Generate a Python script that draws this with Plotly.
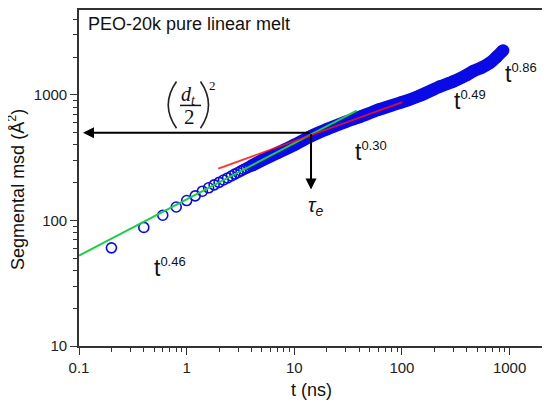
import math
import plotly.graph_objects as go

# ---------------- data ----------------
# individual open circles (short times, ns) and segmental msd (Å^2)
circle_t = [0.2, 0.4, 0.6, 0.8, 1.0, 1.2, 1.4, 1.6, 1.8, 2.0, 2.2, 2.4, 2.6, 2.8, 3.0,
            3.2, 3.4, 3.6, 3.8, 4.0, 4.2, 4.4, 4.6, 4.8, 5.0]
circle_msd = [60.5, 88, 110, 128, 144, 157, 171, 182, 192, 201, 210, 218, 226, 234, 241,
              248, 255, 261, 267, 273, 279, 285, 290, 296, 301]

# dense part of the same data set (circles merge into a solid band)
band_t = [4, 5, 7, 10, 14, 20, 30, 40, 60, 100, 150, 225, 300, 400, 460, 550, 650, 750, 870]
band_msd = [273, 301, 345, 400, 465, 532, 610, 665, 760, 875, 995, 1165, 1280, 1440,
            1545, 1650, 1790, 1990, 2260]

# power-law guide lines
green_t = [0.1, 38]
green_msd = [52.5, 750]
red_t = [1.965, 101]
red_msd = [259, 875]

# entanglement point
tau_e = 14.3
msd_tau_e = 500
arrow_left_t = 0.109
arrow_down_msd = 176

# slope labels
slope_base = ["t", "t", "t", "t"]
slope_exp = ["0.46", "0.30", "0.49", "0.86"]
slope_t = [0.476, 34.8, 289, 871]
slope_msd = [42.5, 352, 905, 1470]

x_tick_vals = [0.1, 1, 10, 100, 1000]
x_tick_text = ["0.1", "1", "10", "100", "1000"]
y_tick_vals = [10, 100, 1000]
y_tick_text = ["10", "100", "1000"]

# ---------------- layout helpers ----------------
# the page adds an 8 px body margin, so the figure is 8 px smaller and
# every page-pixel position below is shifted by OFF
OFF = 8
W, H = 550 - OFF, 407 - OFF
ML, MR, MT, MB = 79 - OFF, 8, 0, 61
PW, PH = W - ML - MR, H - MT - MB
DEC_Y = 126.3  # px per decade on y (page reference)


def px(x):
    """page x pixel -> paper"""
    return (x - OFF - ML) / PW


def py(y):
    """page y pixel -> paper"""
    return (H - MB - (y - OFF)) / PH


BLUE = "#0a0ae6"
SANS = "Liberation Sans, Arial, sans-serif"
SERIF = "Liberation Serif, Times New Roman, serif"

fig = go.Figure()

fig.add_trace(go.Scatter(
    x=circle_t, y=circle_msd, mode="markers",
    marker=dict(symbol="circle-open", size=10, color=BLUE, line=dict(width=1.6, color=BLUE)),
    showlegend=False, hoverinfo="skip"))

fig.add_trace(go.Scatter(
    x=band_t, y=band_msd, mode="lines+markers",
    line=dict(color=BLUE, width=12.5, shape="spline", smoothing=0.6),
    marker=dict(symbol="circle", size=12.5, color=BLUE, line=dict(width=0)),
    showlegend=False, hoverinfo="skip"))

fig.add_trace(go.Scatter(
    x=green_t, y=green_msd, mode="lines",
    line=dict(color="#18d040", width=2),
    showlegend=False, hoverinfo="skip"))

fig.add_trace(go.Scatter(
    x=red_t, y=red_msd, mode="lines",
    line=dict(color="#ff1010", width=1.8), opacity=0.85,
    showlegend=False, hoverinfo="skip"))

minor_vals = [m * 10 ** e for e in range(-1, 4) for m in range(2, 10)]

axis_common = dict(
    type="log", showgrid=False, zeroline=False,
    showline=True, linecolor="#333333", linewidth=1.6, mirror=True,
    ticks="outside", ticklen=7, tickwidth=1.4, tickcolor="#333333",
    tickfont=dict(family=SANS, size=15, color="#222222"),
    minor=dict(tickvals=minor_vals, ticks="outside", ticklen=4, tickwidth=1.2,
               tickcolor="#333333", showgrid=False),
)

fig.update_xaxes(range=[math.log10(0.1), math.log10(2000)], tickmode="array",
                 tickvals=x_tick_vals, ticktext=x_tick_text, **axis_common)
fig.update_yaxes(range=[1, 1 + PH / DEC_Y], tickmode="array",
                 tickvals=y_tick_vals, ticktext=y_tick_text, **axis_common)

ann = []
# axis titles
ann.append(dict(xref="paper", yref="paper", x=px(311), y=py(390), text="t (ns)",
                showarrow=False, font=dict(family=SANS, size=18, color="#111111"),
                xanchor="center", yanchor="middle"))
ann.append(dict(xref="paper", yref="paper", x=px(17), y=py(189), text="Segmental msd (Å<sup>2</sup>)",
                textangle=-90, showarrow=False, font=dict(family=SANS, size=18, color="#111111"),
                xanchor="center", yanchor="middle"))
# header text
ann.append(dict(xref="paper", yref="paper", x=px(86), y=py(22), text="PEO-20k pure linear melt",
                showarrow=False, font=dict(family=SANS, size=18, color="#111111"),
                xanchor="left", yanchor="middle"))
# slope labels
for base, ex, tx, ty in zip(slope_base, slope_exp, slope_t, slope_msd):
    txt = base + "<sup><span style='font-size:13px'>" + ex + "</span></sup>"
    ann.append(dict(xref="x", yref="y", x=math.log10(tx), y=math.log10(ty), text=txt,
                    showarrow=False, font=dict(family=SANS, size=23, color="#111111"),
                    xanchor="left", yanchor="middle"))
# arrows
ann.append(dict(xref="x", yref="y", axref="x", ayref="y",
                x=math.log10(arrow_left_t), y=math.log10(msd_tau_e),
                ax=math.log10(tau_e), ay=math.log10(msd_tau_e), text="",
                showarrow=True, arrowhead=2, arrowsize=1.1, arrowwidth=2, arrowcolor="#000000",
                standoff=0, startstandoff=0))
ann.append(dict(xref="x", yref="y", axref="x", ayref="y",
                x=math.log10(tau_e), y=math.log10(arrow_down_msd),
                ax=math.log10(tau_e), ay=math.log10(msd_tau_e), text="",
                showarrow=True, arrowhead=2, arrowsize=1.1, arrowwidth=2, arrowcolor="#000000",
                standoff=0, startstandoff=0))
# tau_e label
ann.append(dict(xref="paper", yref="paper", x=px(306), y=py(206),
                text="<i>τ</i><sub><i>e</i></sub>", showarrow=False,
                font=dict(family=SANS, size=20, color="#111111"),
                xanchor="left", yanchor="middle"))
# (d_t / 2)^2
ann.append(dict(xref="paper", yref="paper", x=px(188), y=py(94),
                text="<i>d</i><sub><i>t</i></sub>", showarrow=False,
                font=dict(family=SERIF, size=20, color="#111111"),
                xanchor="center", yanchor="middle"))
ann.append(dict(xref="paper", yref="paper", x=px(189), y=py(116), text="2", showarrow=False,
                font=dict(family=SERIF, size=21, color="#111111"),
                xanchor="center", yanchor="middle"))
ann.append(dict(xref="paper", yref="paper", x=px(212), y=py(84), text="2", showarrow=False,
                font=dict(family=SERIF, size=13, color="#111111"),
                xanchor="center", yanchor="middle"))

shapes = []
shapes.append(dict(type="line", xref="paper", yref="paper", x0=px(180), x1=px(201),
                   y0=py(104), y1=py(104), line=dict(color="#111111", width=1.5)))
lp = "M {a},{b} Q {c},{d} {e},{f}".format(a=px(176.5), b=py(80), c=px(160), d=py(103.5),
                                           e=px(176.5), f=py(127))
rp = "M {a},{b} Q {c},{d} {e},{f}".format(a=px(200.5), b=py(80), c=px(216.5), d=py(103.5),
                                           e=px(200.5), f=py(127))
shapes.append(dict(type="path", xref="paper", yref="paper", path=lp,
                   line=dict(color="#222222", width=1.6)))
shapes.append(dict(type="path", xref="paper", yref="paper", path=rp,
                   line=dict(color="#222222", width=1.6)))

fig.update_layout(
    width=W, height=H, margin=dict(l=ML, r=MR, t=MT, b=MB),
    paper_bgcolor="white", plot_bgcolor="white",
    annotations=ann, shapes=shapes, showlegend=False,
)

fig.write_html("out.html")
